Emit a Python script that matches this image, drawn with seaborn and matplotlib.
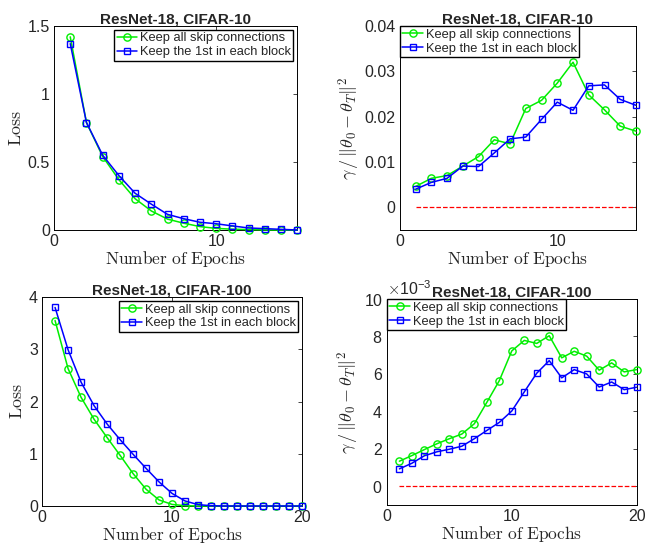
import numpy as np
import pandas as pd
import matplotlib
matplotlib.use("Agg")
import matplotlib.pyplot as plt
import seaborn as sns
from matplotlib.ticker import ScalarFormatter

# --- data ---
epochs_10 = list(range(1, 16))
epochs_100 = list(range(1, 21))

loss10_all = [1.42, 0.79, 0.54, 0.37, 0.23, 0.14, 0.08, 0.05, 0.025, 0.012, 0.006, 0.003, 0.001, 0.0, 0.0]
loss10_first = [1.37, 0.79, 0.55, 0.40, 0.27, 0.19, 0.115, 0.083, 0.057, 0.046, 0.03, 0.015, 0.01, 0.005, 0.0]

ratio10_all = [0.0046, 0.0064, 0.0070, 0.0091, 0.0112, 0.0149, 0.0140, 0.0218, 0.0236, 0.0274,
               0.0320, 0.0248, 0.0215, 0.0179, 0.0168]
ratio10_first = [0.0040, 0.0055, 0.0064, 0.0091, 0.0090, 0.0120, 0.0151, 0.0155, 0.0194, 0.0232,
                 0.0214, 0.0268, 0.0270, 0.0238, 0.0225]

loss100_all = [3.55, 2.63, 2.08, 1.66, 1.31, 0.97, 0.62, 0.32, 0.115, 0.03, 0.006, 0.0,
               0.0, 0.0, 0.0, 0.0, 0.0, 0.0, 0.0, 0.0]
loss100_first = [3.80, 2.99, 2.37, 1.92, 1.57, 1.27, 0.99, 0.72, 0.46, 0.24, 0.096, 0.026,
                 0.006, 0.0, 0.0, 0.0, 0.0, 0.0, 0.0, 0.0]

# values in units of 1e-3
ratio100_all = [1.34, 1.64, 1.96, 2.27, 2.54, 2.79, 3.34, 4.48, 5.64, 7.23,
                7.79, 7.63, 8.04, 6.86, 7.21, 6.95, 6.20, 6.59, 6.11, 6.23]
ratio100_first = [0.93, 1.23, 1.63, 1.84, 1.98, 2.14, 2.54, 2.98, 3.41, 4.02,
                  5.04, 6.04, 6.71, 5.79, 6.23, 6.00, 5.30, 5.57, 5.16, 5.29]

labels = ["Keep all skip connections", "Keep the 1st in each block"]
title10 = "ResNet-18, CIFAR-10"
title100 = "ResNet-18, CIFAR-100"

sns.set_style("white")
plt.rcParams['font.family'] = ['Liberation Sans', 'DejaVu Sans']
plt.rcParams['mathtext.fontset'] = 'cm'

fig = plt.figure(figsize=(6.47, 5.5), dpi=100)
ax_tl = fig.add_axes([0.0835, 0.5818, 0.376, 0.371])
ax_tr = fig.add_axes([0.618, 0.5818, 0.365, 0.371])
ax_bl = fig.add_axes([0.065, 0.080, 0.402, 0.380])
ax_br = fig.add_axes([0.598, 0.0818, 0.386, 0.3745])

xlab = r'$\mathrm{Number\ of\ Epochs}$'
ratio_lab = r'$\gamma\,/\,\|\theta_0-\theta_T\|^2$'
leg_kw = dict(fontsize=9.3, frameon=True, fancybox=False, edgecolor='black', framealpha=1,
              borderpad=0.2, labelspacing=0.15, handlelength=1.6, handletextpad=0.2)


def draw(ax, x, y_all, y_first):
    sns.lineplot(x=x, y=y_all, ax=ax, color='#00ee00', marker='o', mfc='none', mec='#00ee00',
                 markersize=5.2, mew=1.0, lw=1.1, label=labels[0], clip_on=False, zorder=3)
    sns.lineplot(x=x, y=y_first, ax=ax, color='#0000ff', marker='s', mfc='none', mec='#0000ff',
                 markersize=4.5, mew=1.0, lw=1.1, label=labels[1], clip_on=False, zorder=3)


def style(ax, title, ylabel):
    ax.set_title(title, fontsize=11, fontweight='bold', pad=1.5)
    ax.set_xlabel(xlab, fontsize=12.5, labelpad=0)
    ax.set_ylabel(ylabel, fontsize=13, labelpad=2)
    ax.tick_params(direction='in', top=True, right=True, labelsize=11.5, length=3, width=0.6, pad=3)
    for s in ax.spines.values():
        s.set_linewidth(0.7)
        s.set_color('black')


draw(ax_tl, epochs_10, loss10_all, loss10_first)
ax_tl.set_xlim(0, 15)
ax_tl.set_ylim(0, 1.5)
ax_tl.set_xticks([0, 10])
ax_tl.set_yticks([0, 0.5, 1, 1.5])
ax_tl.set_yticklabels(['0', '0.5', '1', '1.5'])
style(ax_tl, title10, r'$\mathrm{Loss}$')
ax_tl.legend(loc='upper right', borderaxespad=0.3, **leg_kw)

draw(ax_tr, epochs_10, ratio10_all, ratio10_first)
ax_tr.plot([1, 15], [0, 0], color='red', ls='--', lw=0.9)
ax_tr.set_xlim(0, 15)
ax_tr.set_ylim(-0.005, 0.04)
ax_tr.set_xticks([0, 10])
ax_tr.set_yticks([0, 0.01, 0.02, 0.03, 0.04])
ax_tr.set_yticklabels(['0', '0.01', '0.02', '0.03', '0.04'])
style(ax_tr, title10, ratio_lab)
ax_tr.legend(loc='upper left', borderaxespad=0.0, **leg_kw)

draw(ax_bl, epochs_100, loss100_all, loss100_first)
ax_bl.set_xlim(0, 20)
ax_bl.set_ylim(0, 4)
ax_bl.set_xticks([0, 10, 20])
ax_bl.set_yticks([0, 1, 2, 3, 4])
style(ax_bl, title100, r'$\mathrm{Loss}$')
ax_bl.legend(loc='upper right', borderaxespad=0.3, **leg_kw)

draw(ax_br, epochs_100, np.array(ratio100_all) * 1e-3, np.array(ratio100_first) * 1e-3)
ax_br.plot([1, 20], [0, 0], color='red', ls='--', lw=0.9)
ax_br.set_xlim(0, 20)
ax_br.set_ylim(-0.001, 0.010)
ax_br.set_xticks([0, 10, 20])
ax_br.set_yticks([0, 0.002, 0.004, 0.006, 0.008, 0.010])
fmt = ScalarFormatter(useMathText=True)
fmt.set_powerlimits((-3, -3))
ax_br.yaxis.set_major_formatter(fmt)
style(ax_br, title100, ratio_lab)
ax_br.yaxis.get_offset_text().set_fontsize(11.5)
ax_br.legend(loc='upper left', borderaxespad=0.0, **leg_kw)

fig.savefig('out.png', dpi=100)
